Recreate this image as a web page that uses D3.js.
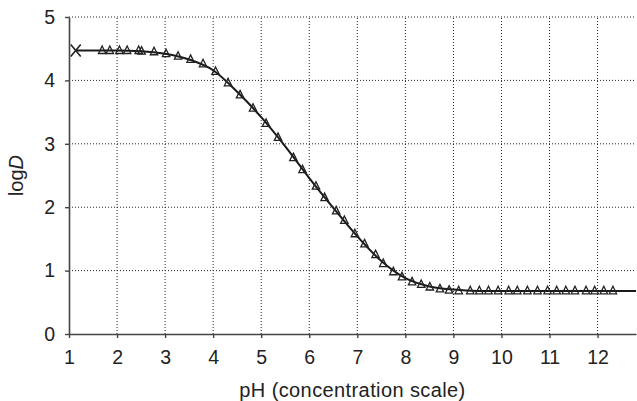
<!DOCTYPE html>
<html>
<head>
<meta charset="utf-8">
<script src="https://cdn.jsdelivr.net/npm/d3@7"></script>
<style>
  body { margin: 0; background: #fff; }
  text { font-family: "Liberation Sans", Arial, sans-serif; fill: #222; }
</style>
</head>
<body>
<div id="chart"></div>
<script>
/* logD vs pH, measured points and fitted curve. */

const xTicks = [1, 2, 3, 4, 5, 6, 7, 8, 9, 10, 11, 12];
const yTicks = [0, 1, 2, 3, 4, 5];

// measured points (triangles)
const pointPH = [1.69, 1.85, 2.05, 2.21, 2.45, 2.51, 2.77, 3.02, 3.27, 3.53, 3.79, 4.05,
  4.31, 4.56, 4.83, 5.10, 5.35, 5.67, 5.86, 6.14, 6.32, 6.56, 6.73, 6.95, 7.15, 7.38,
  7.54, 7.75, 7.93, 8.14, 8.33, 8.51, 8.72, 8.91, 9.11, 9.35, 9.54, 9.73, 9.93, 10.15,
  10.33, 10.54, 10.75, 10.96, 11.15, 11.34, 11.53, 11.76, 11.94, 12.13, 12.32];
const pointLogD = [4.47, 4.47, 4.47, 4.47, 4.47, 4.46, 4.45, 4.42, 4.38, 4.33, 4.26, 4.14,
  3.96, 3.77, 3.56, 3.32, 3.10, 2.78, 2.59, 2.33, 2.15, 1.94, 1.79, 1.58, 1.42, 1.25,
  1.11, 0.98, 0.90, 0.82, 0.78, 0.74, 0.71, 0.69, 0.68, 0.68, 0.68, 0.68, 0.68, 0.68,
  0.68, 0.68, 0.68, 0.68, 0.68, 0.68, 0.68, 0.68, 0.68, 0.68, 0.68];

// fitted curve
const curvePH = [1.14, 2.0, 2.5, 3.0, 3.5, 4.0, 4.5, 5.0, 5.5, 6.0, 6.5, 7.0, 7.5, 8.0, 8.5, 9.0, 9.5, 12.8];
const curveLogD = [4.47, 4.47, 4.46, 4.42, 4.33, 4.16, 3.82, 3.42, 2.96, 2.46, 1.99, 1.54, 1.15, 0.88, 0.75, 0.70, 0.68, 0.68];

// the X marker
const crossPH = 1.14, crossLogD = 4.47;

const width = 637, height = 401,
    margin = ({ top: 17, right: 1, bottom: 67, left: 69 });

const svg = d3.select("#chart")
  .append("svg")
  .attr("width", width)
  .attr("height", height);

const x = d3.scaleLinear()
  .domain([1, 12.8])
  .range([margin.left, width - margin.right]);

const y = d3.scaleLinear()
  .domain([0, 5])
  .range([height - margin.bottom, margin.top]);

// dotted grid
svg.append("g")
  .selectAll("line")
  .data(xTicks.slice(1))
  .join("line")
  .attr("x1", d => x(d)).attr("x2", d => x(d))
  .attr("y1", y(0)).attr("y2", y(5))
  .attr("stroke", "#222")
  .attr("stroke-width", 1)
  .attr("stroke-dasharray", "1,2");

svg.append("g")
  .selectAll("line")
  .data(yTicks.slice(1))
  .join("line")
  .attr("x1", x(1)).attr("x2", width - margin.right)
  .attr("y1", d => y(d)).attr("y2", d => y(d))
  .attr("stroke", "#222")
  .attr("stroke-width", 1)
  .attr("stroke-dasharray", "1,2");

// axes
const xAxis = svg.append("g")
  .attr("transform", `translate(0,${y(0)})`)
  .call(d3.axisBottom(x).tickValues(xTicks).tickFormat(d3.format("d"))
    .tickSize(4).tickPadding(12).tickSizeOuter(0));

const yAxis = svg.append("g")
  .attr("transform", `translate(${x(1)},0)`)
  .call(d3.axisLeft(y).tickValues(yTicks).tickFormat(d3.format("d"))
    .tickSize(4).tickPadding(10).tickSizeOuter(0));

[xAxis, yAxis].forEach(g => {
  g.select(".domain").attr("stroke", "#444").attr("stroke-width", 1.6);
  g.selectAll(".tick line").attr("stroke", "#444").attr("stroke-width", 1.4);
  g.selectAll(".tick text").attr("font-size", 19.5).attr("fill", "#222")
    .attr("font-family", "Liberation Sans, Arial, sans-serif");
});

// axis titles
svg.append("text")
  .attr("text-anchor", "middle")
  .attr("x", (x(1) + width - margin.right) / 2)
  .attr("y", 397)
  .attr("font-size", 20)
  .attr("letter-spacing", 0.4)
  .text("pH (concentration scale)");

const yl = svg.append("text")
  .attr("text-anchor", "middle")
  .attr("transform", `translate(23,${(y(0) + y(5)) / 2}) rotate(-90)`)
  .attr("font-size", 20);
yl.append("tspan").text("log");
yl.append("tspan").attr("font-style", "italic").text("D");

// curve
const curve = curvePH.map((p, i) => [p, curveLogD[i]]);
svg.append("path")
  .datum(curve)
  .attr("d", d3.line().x(d => x(d[0])).y(d => y(d[1])).curve(d3.curveMonotoneX))
  .attr("fill", "none")
  .attr("stroke", "#1a1a1a")
  .attr("stroke-width", 2);

// triangles, open so the curve shows through
const points = pointPH.map((p, i) => [p, pointLogD[i]]);
svg.append("g")
  .selectAll("path")
  .data(points)
  .join("path")
  .attr("transform", d => `translate(${x(d[0])},${y(d[1])})`)
  .attr("d", "M0,-4.6L3.7,2.9L-3.7,2.9Z")
  .attr("fill", "none")
  .attr("stroke", "#222")
  .attr("stroke-width", 1.3)
  .attr("stroke-linejoin", "miter");

// X marker
const cx = x(crossPH), cy = y(crossLogD);
svg.append("path")
  .attr("d", `M${cx - 5},${cy - 6}L${cx + 5},${cy + 6}M${cx + 5},${cy - 6}L${cx - 5},${cy + 6}`)
  .attr("stroke", "#222")
  .attr("stroke-width", 1.6)
  .attr("fill", "none");
</script>
</body>
</html>
